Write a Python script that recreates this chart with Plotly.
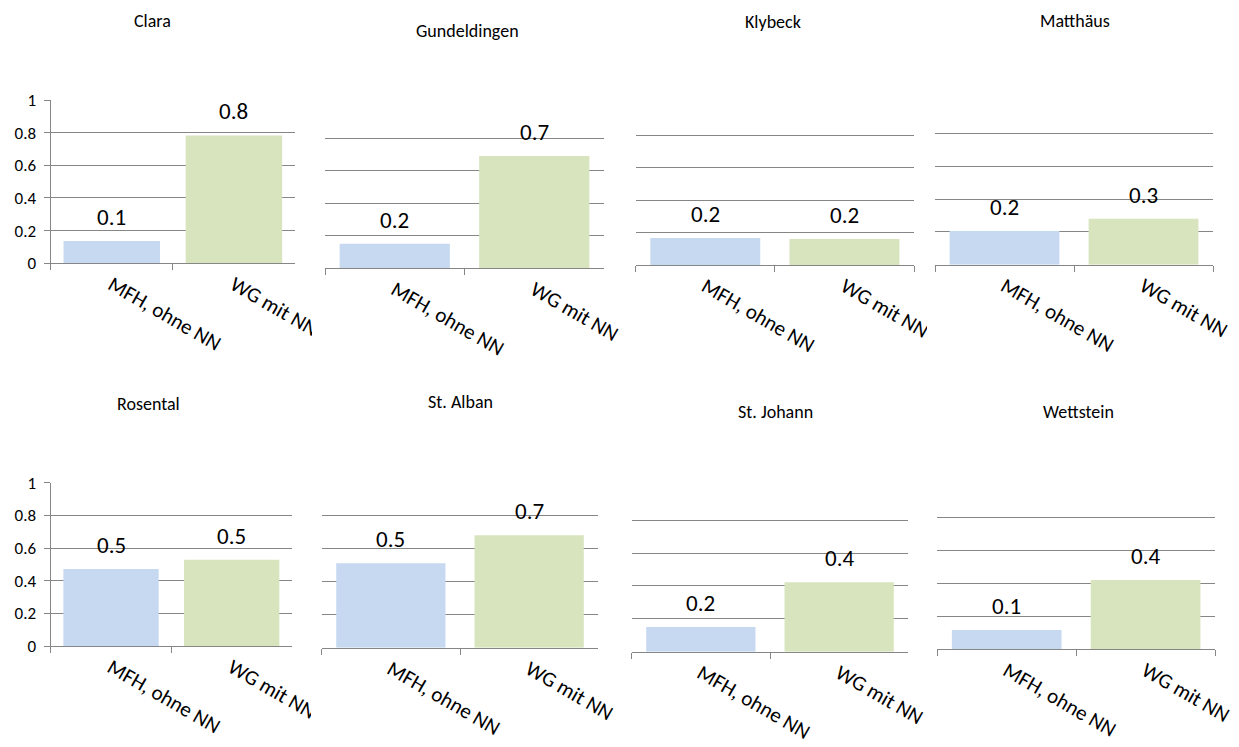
import plotly.graph_objects as go
from decimal import Decimal, ROUND_HALF_UP

# Share per district and household type
districts = ["Clara", "Gundeldingen", "Klybeck", "Matthäus",
             "Rosental", "St. Alban", "St. Johann", "Wettstein"]
categories = ["MFH, ohne NN", "WG mit NN"]
mfh_values = [0.137, 0.152, 0.167, 0.205, 0.471, 0.512, 0.150, 0.117]
wg_values = [0.783, 0.692, 0.161, 0.280, 0.528, 0.681, 0.422, 0.422]
y_ticks = [0, 0.2, 0.4, 0.6, 0.8, 1]
y_tick_labels = ["0", "0.2", "0.4", "0.6", "0.8", "1"]

W, H = 1239, 747
BLUE = "#C6D9F1"
GREEN = "#D7E4BD"
LINE = "#868686"
FONT = "Carlito, Calibri, Lato, sans-serif"

# plot-area boxes in pixels: (left, right, top, bottom)
boxes = [
    (50.7, 295, 100, 263.3),
    (325, 604, 106, 268.3),
    (635.7, 914, 103.3, 265),
    (935, 1213, 100.7, 264.7),
    (50.7, 292, 482.7, 646),
    (321.7, 598.3, 482.7, 647.7),
    (631.7, 908.3, 487.3, 651.7),
    (937.3, 1215, 485, 649.3),
]
# title centres in pixels
title_pos = [(152, 21), (467, 31), (773, 22), (1075, 21),
             (148, 404), (460, 402), (775, 412), (1078, 412)]
# chart-area right edges that cut off long category labels: (x0, x1, y0, y1)
clip_masks = [(312, 324, 276, 372), (927, 934, 276, 372), (311, 321, 657, 747)]


def fmt(v):
    return str(Decimal(str(v)).quantize(Decimal("0.1"), rounding=ROUND_HALF_UP))


fig = go.Figure()
annotations = []
for i, name in enumerate(districts):
    n = "" if i == 0 else str(i + 1)
    vals = [mfh_values[i], wg_values[i]]
    fig.add_trace(go.Bar(
        x=categories, y=vals,
        marker=dict(color=[BLUE, GREEN], line=dict(width=0)),
        xaxis="x" + n, yaxis="y" + n, showlegend=False,
        hoverinfo="x+y",
    ))
    l, r, t, b = boxes[i]
    first_col = i % 4 == 0
    fig.layout["xaxis" + n] = dict(
        domain=[l / W, r / W], anchor="y" + n, type="category",
        automargin=False,
        showline=True, linecolor=LINE, linewidth=1.3,
        ticks="outside", tickson="boundaries", ticklen=6, tickcolor=LINE,
        tickwidth=1.3, tickangle=30, showgrid=False,
        tickfont=dict(family=FONT, size=21, color="#000000"),
        fixedrange=True,
    )
    fig.layout["yaxis" + n] = dict(
        domain=[1 - b / H, 1 - t / H], anchor="x" + n, range=[0, 1],
        automargin=False,
        tickvals=y_ticks, ticktext=y_tick_labels,
        showgrid=True, gridcolor=LINE, gridwidth=1.3, zeroline=False,
        showline=first_col, linecolor=LINE, linewidth=1.3,
        ticks="outside" if first_col else "", ticklen=6, tickcolor=LINE,
        tickwidth=1.3, showticklabels=first_col, ticklabelstandoff=4,
        tickfont=dict(family=FONT, size=17, color="#000000"),
        fixedrange=True,
    )
    for c, v in zip(categories, vals):
        annotations.append(dict(
            x=c, y=v, xref="x" + n, yref="y" + n, text=fmt(v),
            showarrow=False, yanchor="middle", yshift=24,
            font=dict(family=FONT, size=23, color="#000000"),
        ))
    tx, ty = title_pos[i]
    annotations.append(dict(
        x=tx / W, y=1 - ty / H, xref="paper", yref="paper", text=name,
        showarrow=False, xanchor="center", yanchor="middle",
        font=dict(family=FONT, size=18, color="#000000"),
    ))

shapes = [
    dict(type="rect", xref="paper", yref="paper", layer="above",
         x0=x0 / W, x1=x1 / W, y0=1 - y1 / H, y1=1 - y0 / H,
         fillcolor="white", line=dict(width=0))
    for x0, x1, y0, y1 in clip_masks
]

fig.update_layout(
    width=W, height=H,
    margin=dict(l=0, r=0, t=0, b=0, autoexpand=False),
    paper_bgcolor="white", plot_bgcolor="white",
    bargap=0.21, annotations=annotations, shapes=shapes,
)
fig.write_html("out.html")
